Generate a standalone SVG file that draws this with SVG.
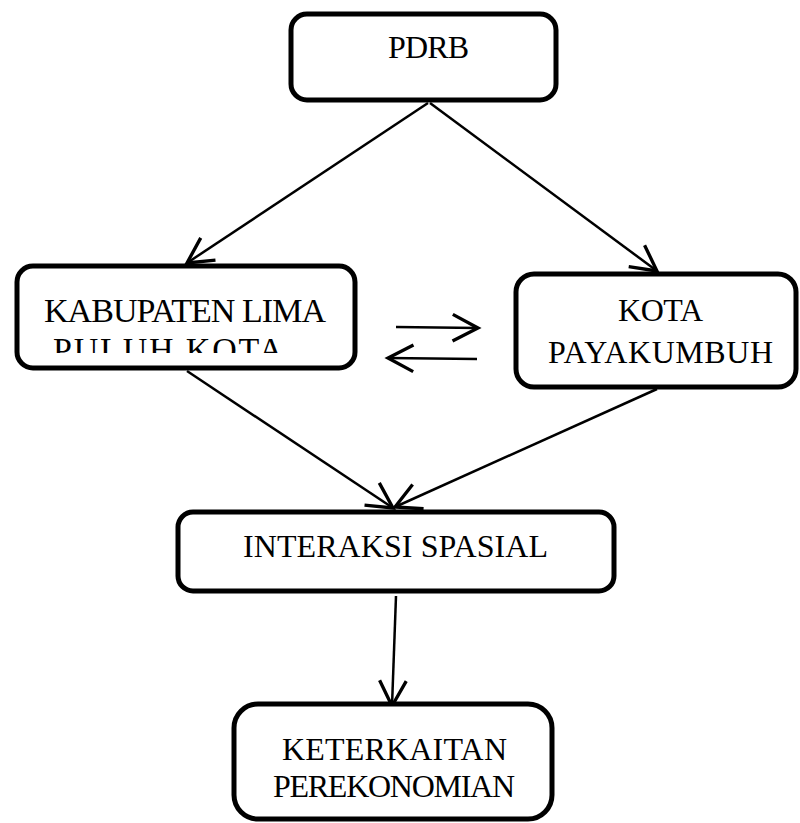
<svg xmlns="http://www.w3.org/2000/svg" width="800" height="823" viewBox="0 0 800 823">
<style>
.box{fill:#fff;stroke:#000;stroke-width:5}
.lbl{font-family:"Liberation Serif","Times New Roman",serif;font-size:32px;fill:#000}
.big{font-size:34px}
.con{stroke:#000;stroke-width:2.5;fill:none}
</style>
<defs>
<marker id="ah" markerUnits="userSpaceOnUse" markerWidth="40" markerHeight="40" viewBox="-25 -15 30 30" refX="0" refY="0" orient="auto">
<path d="M-19,-10 L0,0 L-19,10" fill="none" stroke="#000" stroke-width="2.5"/>
</marker>
<clipPath id="clipKab"><rect x="0" y="260" width="400" height="93"/></clipPath>
</defs>
<rect width="800" height="823" fill="#fff"/>
<g id="connectors">
<line class="con" x1="428" y1="103" x2="187" y2="263" marker-end="url(#ah)"/>
<line class="con" x1="430" y1="103" x2="657" y2="271" marker-end="url(#ah)"/>
<line class="con" x1="396" y1="327" x2="478" y2="328" marker-end="url(#ah)"/>
<line class="con" x1="477" y1="359" x2="388" y2="358" marker-end="url(#ah)"/>
<line class="con" x1="187" y1="371" x2="393" y2="508" marker-end="url(#ah)"/>
<line class="con" x1="657" y1="389" x2="395" y2="507" marker-end="url(#ah)"/>
<line class="con" x1="396" y1="596" x2="392" y2="706" marker-end="url(#ah)"/>
</g>
<g id="pdrb">
<rect class="box" x="291" y="14" width="265" height="86" rx="16"/>
<text class="lbl" x="388" y="58" textLength="81">PDRB</text>
</g>
<g id="kabupaten">
<rect class="box" x="17" y="266" width="338" height="102" rx="16"/>
<g clip-path="url(#clipKab)">
<text class="lbl big" x="44" y="322" textLength="282">KABUPATEN LIMA</text>
<text class="lbl big" x="53" y="361" textLength="230">PULUH KOTA</text>
</g>
</g>
<g id="kota">
<rect class="box" x="516" y="274" width="280" height="113" rx="18"/>
<text class="lbl" x="618" y="321" textLength="85">KOTA</text>
<text class="lbl" x="548" y="363" textLength="225">PAYAKUMBUH</text>
</g>
<g id="interaksi">
<rect class="box" x="178" y="512" width="436" height="79" rx="15"/>
<text class="lbl" x="243" y="557" textLength="305">INTERAKSI SPASIAL</text>
</g>
<g id="keterkaitan">
<rect class="box" x="234" y="704" width="318" height="115" rx="24"/>
<text class="lbl" x="282" y="760" textLength="225">KETERKAITAN</text>
<text class="lbl" x="273" y="797" textLength="242">PEREKONOMIAN</text>
</g>
</svg>
